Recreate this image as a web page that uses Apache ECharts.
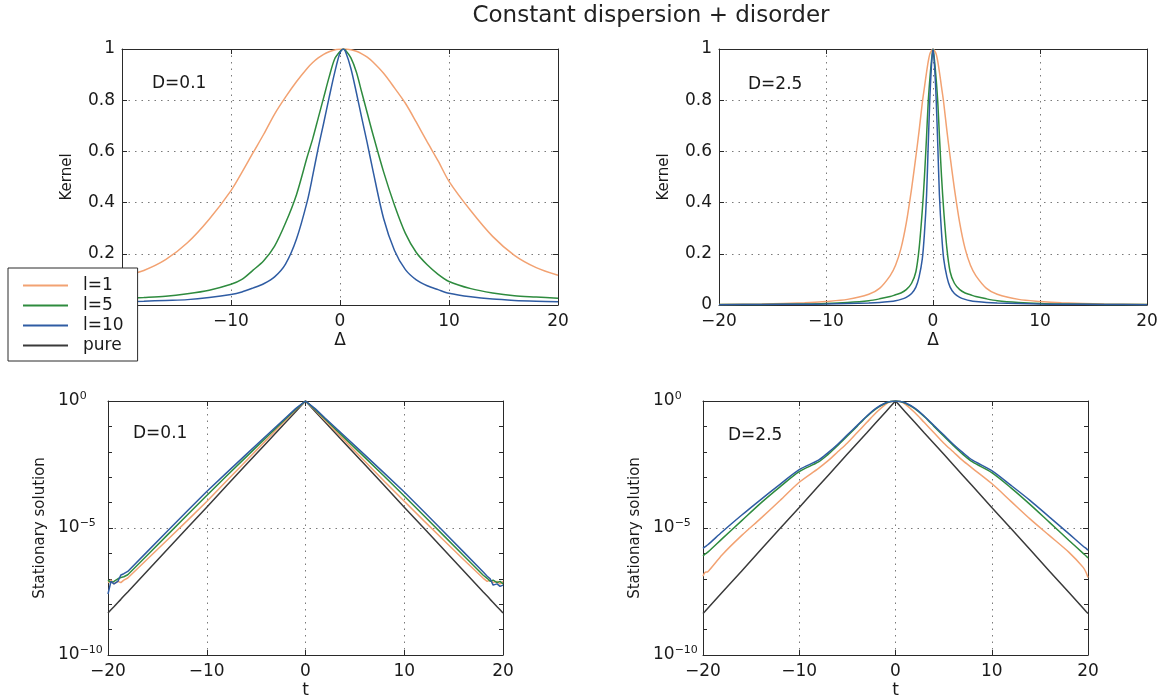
<!DOCTYPE html>
<html><head><meta charset="utf-8">
<script src="https://cdn.jsdelivr.net/npm/echarts@6/dist/echarts.min.js"></script>
<style>html,body{margin:0;padding:0;background:#fff}#c{width:1174px;height:700px}</style>
</head><body><div id="c"></div>
<script>
// ---------- data ----------
const titleText = 'Constant dispersion + disorder';
const seriesNames = ['l=1', 'l=5', 'l=10', 'pure'];
const panelLabels = ['D=0.1', 'D=2.5', 'D=0.1', 'D=2.5'];
const xTicks = [-20, -10, 0, 10, 20];
const kernelTicks = [0, 0.2, 0.4, 0.6, 0.8, 1];
const logTicks = [-10, -5, 0]; // exponents of 10

// Top-left: kernel, D=0.1
const kx01 = [-20,-18,-16,-14,-12,-10,-9,-8,-7,-6,-5,-4,-3,-2.5,-2,-1.5,-1,-0.5,0,0.3,0.5,1,1.5,2,2.5,3,4,5,6,7,8,9,10,12,14,16,18,20];
const kernel01_l1 = [0.11,0.135,0.177,0.243,0.335,0.447,0.518,0.593,0.667,0.746,0.812,0.872,0.925,0.947,0.965,0.979,0.989,0.996,0.999,1,1,0.997,0.991,0.981,0.968,0.95,0.905,0.848,0.788,0.714,0.637,0.563,0.483,0.368,0.268,0.194,0.146,0.116];
const kernel01_l5 = [0.025,0.029,0.034,0.044,0.058,0.081,0.10,0.135,0.173,0.23,0.32,0.43,0.58,0.65,0.73,0.81,0.89,0.96,0.99,1,0.995,0.965,0.91,0.83,0.75,0.67,0.52,0.39,0.28,0.205,0.157,0.12,0.092,0.064,0.047,0.036,0.031,0.026];
const kernel01_l10 = [0.013,0.015,0.018,0.021,0.029,0.041,0.051,0.066,0.083,0.11,0.16,0.257,0.406,0.506,0.613,0.71,0.81,0.906,0.985,1,0.99,0.924,0.83,0.73,0.632,0.53,0.338,0.213,0.138,0.098,0.075,0.06,0.046,0.032,0.023,0.018,0.015,0.013];

// Top-right: kernel, D=2.5
const kx25 = [-20,-16,-12,-10,-8,-6,-5,-4,-3.5,-3,-2.5,-2,-1.6,-1.3,-1,-0.8,-0.6,-0.45,-0.3,-0.15,0,0.15,0.3,0.45,0.6,0.8,1,1.3,1.6,2,2.5,3,3.5,4,5,6,8,10,12,16,20];
const kernel25_l1 = [0.002,0.004,0.009,0.014,0.022,0.042,0.065,0.115,0.155,0.22,0.32,0.455,0.58,0.68,0.79,0.85,0.91,0.95,0.98,0.993,1,0.993,0.98,0.95,0.91,0.85,0.79,0.68,0.58,0.455,0.32,0.22,0.155,0.115,0.065,0.042,0.022,0.014,0.009,0.004,0.002];
const kernel25_l5 = [0.0015,0.002,0.004,0.006,0.01,0.017,0.024,0.033,0.04,0.047,0.06,0.085,0.13,0.22,0.37,0.5,0.66,0.79,0.88,0.95,1,0.95,0.88,0.79,0.66,0.5,0.37,0.22,0.13,0.085,0.06,0.047,0.04,0.033,0.024,0.017,0.01,0.006,0.004,0.002,0.0015];
const kernel25_l10 = [0.001,0.002,0.003,0.004,0.006,0.008,0.01,0.014,0.017,0.022,0.03,0.045,0.07,0.11,0.18,0.28,0.43,0.62,0.8,0.93,1,0.93,0.8,0.62,0.43,0.28,0.18,0.11,0.07,0.045,0.03,0.022,0.017,0.014,0.01,0.008,0.006,0.004,0.003,0.002,0.001];

// Bottom-left: stationary solution, D=0.1 (log10 of value)
const tx01 = [-20,-19.7,-19.4,-19,-18.7,-18.4,-18,-16,-14,-12,-10,-8,-6,-4,-2,-1,0,1,2,4,6,8,10,12,14,16,18,18.4,18.7,19,19.4,19.7,20];
const logStat01_l1 = [-7.15,-7.05,-7.2,-7.1,-7.15,-7.05,-6.97,-6.22,-5.47,-4.72,-3.96,-3.15,-2.35,-1.55,-0.75,-0.35,0,-0.36,-0.77,-1.57,-2.37,-3.17,-3.95,-4.72,-5.48,-6.24,-6.98,-7.1,-7.05,-7.15,-7.1,-7.2,-7.1];
const logStat01_l5 = [-7.05,-7.15,-7.1,-7.0,-6.95,-6.92,-6.84,-6.06,-5.28,-4.5,-3.72,-2.95,-2.2,-1.45,-0.7,-0.33,0,-0.34,-0.72,-1.47,-2.22,-2.97,-3.74,-4.52,-5.3,-6.08,-6.86,-6.98,-7.1,-7.05,-7.15,-7.1,-7.2];
const logStat01_l10 = [-7.6,-7.1,-7.2,-7.1,-6.85,-6.8,-6.71,-5.92,-5.13,-4.34,-3.56,-2.83,-2.1,-1.38,-0.66,-0.3,0,-0.31,-0.68,-1.4,-2.12,-2.85,-3.58,-4.36,-5.15,-5.94,-6.73,-6.9,-7.0,-7.25,-7.2,-7.3,-7.25];
const logStat01_pure = [-8.35,-8.22,-8.1,-7.93,-7.81,-7.68,-7.52,-6.68,-5.85,-5.01,-4.18,-3.34,-2.5,-1.67,-0.84,-0.42,0,-0.42,-0.84,-1.67,-2.5,-3.34,-4.18,-5.01,-5.85,-6.68,-7.52,-7.68,-7.81,-7.93,-8.1,-8.22,-8.35];

// Bottom-right: stationary solution, D=2.5 (log10 of value)
const tx25 = [-20,-19.8,-19.5,-18,-16,-14,-12,-10,-8,-7,-6,-5,-4,-3,-2,-1,-0.5,0,0.5,1,2,3,4,5,6,7,8,10,12,14,16,18,19.5,19.8,20];
const logStat25_l1 = [-6.9,-6.75,-6.72,-6.05,-5.3,-4.62,-3.92,-3.2,-2.65,-2.35,-2.0,-1.65,-1.25,-0.85,-0.45,-0.12,-0.02,0,-0.02,-0.12,-0.45,-0.85,-1.25,-1.65,-2.0,-2.35,-2.65,-3.25,-3.95,-4.65,-5.3,-5.95,-6.55,-6.75,-6.95];
const logStat25_l5 = [-6.1,-6.03,-5.95,-5.42,-4.72,-4.02,-3.38,-2.78,-2.4,-2.1,-1.75,-1.38,-1.0,-0.62,-0.3,-0.08,-0.02,0,-0.02,-0.08,-0.3,-0.62,-1.0,-1.38,-1.75,-2.1,-2.4,-2.82,-3.42,-4.08,-4.78,-5.48,-6.0,-6.1,-6.18];
const logStat25_l10 = [-5.8,-5.74,-5.66,-5.15,-4.5,-3.88,-3.28,-2.7,-2.33,-2.03,-1.7,-1.33,-0.97,-0.6,-0.28,-0.07,-0.02,0,-0.02,-0.07,-0.28,-0.6,-0.97,-1.33,-1.7,-2.03,-2.33,-2.74,-3.32,-3.92,-4.57,-5.22,-5.72,-5.8,-5.88];
const logStat25_pure = [-8.37,-8.29,-8.16,-7.53,-6.7,-5.86,-5.02,-4.19,-3.35,-2.93,-2.51,-2.09,-1.67,-1.26,-0.84,-0.42,-0.21,0,-0.21,-0.42,-0.84,-1.26,-1.67,-2.09,-2.51,-2.93,-3.35,-4.19,-5.02,-5.86,-6.7,-7.53,-8.16,-8.29,-8.37];

// ---------- styling ----------
const FONT = 'DejaVu Sans';
const TXT = '#1a1a1a';
const FRAME = '#2a2a2a';
const GRIDC = '#7a7a7a';
const COLORS = { 'l=1': '#F2A272', 'l=5': '#2E8B3E', 'l=10': '#2F5CA3', 'pure': '#3A3A3A' };

const grids = [
  { left: 122, top: 49, width: 436, height: 256 },
  { left: 719, top: 49, width: 428, height: 256 },
  { left: 108, top: 401, width: 395, height: 255 },
  { left: 703, top: 401, width: 385, height: 256 }
];

const minus = v => (v < 0 ? '\u2212' + Math.abs(v) : String(v));

const xAxes = [], yAxes = [];
grids.forEach((g, i) => {
  const isLog = i >= 2;
  xAxes.push({
    type: 'value', gridIndex: i, position: 'bottom', min: -20, max: 20, interval: 10,
    name: isLog ? 't' : '\u0394', nameLocation: 'middle', nameGap: 27,
    nameTextStyle: { fontFamily: FONT, fontSize: 17, color: TXT },
    axisLine: { show: true, onZero: false, lineStyle: { color: FRAME, width: 1 } },
    axisTick: { show: true, inside: true, length: 5, lineStyle: { color: FRAME } },
    axisLabel: { fontFamily: FONT, fontSize: 17, color: TXT, margin: 8, formatter: minus, showMinLabel: i !== 0 },
    splitLine: { show: true, showMinLine: false, showMaxLine: false, lineStyle: { color: GRIDC, width: 1, type: [1.5, 5] } }
  });
  xAxes.push({
    type: 'value', gridIndex: i, position: 'top', min: -20, max: 20, interval: 10,
    axisLine: { show: true, onZero: false, lineStyle: { color: FRAME, width: 1 } },
    axisTick: { show: true, inside: true, length: 5, lineStyle: { color: FRAME } },
    axisLabel: { show: false }, splitLine: { show: false }
  });
  if (!isLog) {
    yAxes.push({
      type: 'value', gridIndex: i, position: 'left', min: 0, max: 1, interval: 0.2,
      name: 'Kernel', nameLocation: 'middle', nameGap: 47,
      nameTextStyle: { fontFamily: FONT, fontSize: 15, color: TXT },
      axisLine: { show: true, onZero: false, lineStyle: { color: FRAME, width: 1 } },
      axisTick: { show: true, inside: true, length: 5, lineStyle: { color: FRAME } },
      axisLabel: { fontFamily: FONT, fontSize: 17, color: TXT, margin: 7,
        formatter: v => (v === 0 ? '0' : v === 1 ? '1' : v.toFixed(1)) },
      splitLine: { show: true, showMinLine: false, showMaxLine: false, lineStyle: { color: GRIDC, width: 1, type: [1.5, 5] } }
    });
    yAxes.push({
      type: 'value', gridIndex: i, position: 'right', min: 0, max: 1, interval: 0.2,
      axisLine: { show: true, onZero: false, lineStyle: { color: FRAME, width: 1 } },
      axisTick: { show: true, inside: true, length: 5, lineStyle: { color: FRAME } },
      axisLabel: { show: false }, splitLine: { show: false }
    });
  } else {
    yAxes.push({
      type: 'value', gridIndex: i, position: 'left', min: -10, max: 0, interval: 5,
      name: 'Stationary solution', nameLocation: 'middle', nameGap: 60,
      nameTextStyle: { fontFamily: FONT, fontSize: 15, color: TXT },
      axisLine: { show: true, onZero: false, lineStyle: { color: FRAME, width: 1 } },
      axisTick: { show: true, inside: true, length: 5, lineStyle: { color: FRAME } },
      minorTick: { show: true, splitNumber: 5, length: 4, lineStyle: { color: FRAME } },
      axisLabel: { align: 'left', margin: 50, color: TXT,
        formatter: v => '{b|10}{s|' + minus(v) + '}',
        rich: {
          b: { fontFamily: FONT, fontSize: 17, lineHeight: 20, color: TXT },
          s: { fontFamily: FONT, fontSize: 11, lineHeight: 6, verticalAlign: 'top', color: TXT }
        } },
      splitLine: { show: true, showMinLine: false, showMaxLine: false, lineStyle: { color: GRIDC, width: 1, type: [1.5, 5] } }
    });
    yAxes.push({
      type: 'value', gridIndex: i, position: 'right', min: -10, max: 0, interval: 5,
      axisLine: { show: true, onZero: false, lineStyle: { color: FRAME, width: 1 } },
      axisTick: { show: true, inside: true, length: 5, lineStyle: { color: FRAME } },
      minorTick: { show: true, splitNumber: 5, length: 4, lineStyle: { color: FRAME } },
      axisLabel: { show: false }, splitLine: { show: false }
    });
  }
});

const pair = (xs, ys) => xs.map((x, k) => [x, ys[k]]);
const mk = (name, gi, xs, ys) => ({
  type: 'line', name, xAxisIndex: gi * 2, yAxisIndex: gi * 2, data: pair(xs, ys),
  showSymbol: false, symbol: 'none', smooth: 0.3,
  lineStyle: { color: COLORS[name], width: 1.5 }, itemStyle: { color: COLORS[name] },
  clip: true, z: 3
});
const mkRaw = (name, gi, xs, ys) => Object.assign(mk(name, gi, xs, ys), { smooth: false });

const series = [
  mk('l=1', 0, kx01, kernel01_l1), mk('l=5', 0, kx01, kernel01_l5), mk('l=10', 0, kx01, kernel01_l10),
  mk('l=1', 1, kx25, kernel25_l1), mk('l=5', 1, kx25, kernel25_l5), mk('l=10', 1, kx25, kernel25_l10),
  mkRaw('pure', 2, tx01, logStat01_pure), mkRaw('l=1', 2, tx01, logStat01_l1), mkRaw('l=5', 2, tx01, logStat01_l5), mkRaw('l=10', 2, tx01, logStat01_l10),
  mkRaw('pure', 3, tx25, logStat25_pure), mk('l=1', 3, tx25, logStat25_l1), mk('l=5', 3, tx25, logStat25_l5), mk('l=10', 3, tx25, logStat25_l10)
];

const labelPos = [[152, 84], [748, 85], [133, 434], [728, 436]];
const graphics = [{
  type: 'text', x: 651, y: 16, z: 10,
  style: { text: titleText, fontFamily: FONT, fontSize: 23, fill: '#222', textAlign: 'center', textVerticalAlign: 'middle' }
}].concat(panelLabels.map((t, i) => ({
  type: 'text', x: labelPos[i][0], y: labelPos[i][1], z: 10,
  style: { text: t, fontFamily: FONT, fontSize: 17, fill: TXT, textAlign: 'left', textVerticalAlign: 'middle' }
})));

const chart = echarts.init(document.getElementById('c'), null, { renderer: 'canvas' });
chart.setOption({
  animation: false,
  backgroundColor: '#fff',
  grid: grids,
  xAxis: xAxes,
  yAxis: yAxes,
  legend: {
    data: seriesNames.map(n => ({ name: n, icon: 'rect' })),
    orient: 'vertical', left: 8, top: 268, z: 20,
    backgroundColor: '#fff', borderColor: FRAME, borderWidth: 1,
    padding: [9, 14, 7, 15], itemWidth: 45, itemHeight: 2, itemGap: 3,
    selectedMode: false,
    textStyle: { fontFamily: FONT, fontSize: 17, lineHeight: 16, color: TXT, padding: [0, 0, 0, 10] }
  },
  graphic: graphics,
  series
});
</script></body></html>
